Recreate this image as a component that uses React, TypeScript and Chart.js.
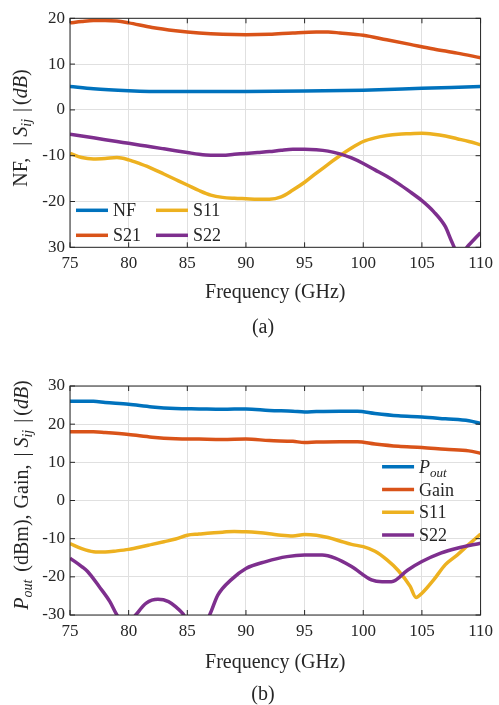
import React, { useEffect, useRef } from "react";
import { Chart, registerables } from "chart.js";
Chart.register(...registerables);

const FONT = "'Liberation Serif', 'Times New Roman', serif";
const INK = "#262626";
const BLUE = "#0072BD";
const ORANGE = "#D95319";
const YELLOW = "#EDB120";
const PURPLE = "#7E2F8E";

// ---------- Data: chart (a) ----------
const nfFreq = [75, 77, 80, 83, 85, 90, 95, 100, 105, 110];
const nfVals = [5.1, 4.6, 4.2, 4.0, 4.0, 4.0, 4.1, 4.3, 4.7, 5.1];

const s21aFreq = [75, 76, 77, 78, 79, 80, 82, 84, 86, 88, 90, 92, 94, 96, 97, 98, 100, 102, 104, 106, 108, 110];
const s21aVals = [19.0, 19.3, 19.5, 19.5, 19.4, 19.0, 18.0, 17.3, 16.8, 16.5, 16.4, 16.5, 16.8, 17.0, 17.0, 16.8, 16.3, 15.3, 14.3, 13.3, 12.4, 11.4];

const s11aFreq = [75, 76, 77, 78, 79, 80, 81, 82, 83, 84, 85, 86, 87, 88, 89, 90, 91, 92, 93, 94, 95, 96, 97, 98, 99, 100, 101, 102, 103, 104, 105, 106, 107, 108, 109, 110];
const s11aVals = [-9.5, -10.4, -10.7, -10.6, -10.4, -10.9, -11.8, -12.8, -14.0, -15.2, -16.4, -17.6, -18.6, -19.1, -19.3, -19.4, -19.5, -19.5, -19.0, -17.5, -15.8, -13.8, -11.9, -10.0, -8.3, -6.9, -6.1, -5.6, -5.3, -5.2, -5.1, -5.3, -5.7, -6.3, -6.9, -7.6];

const s22aFreq = [75, 76, 77, 78, 79, 80, 81, 82, 83, 84, 85, 86, 87, 88, 89, 90, 91, 92, 93, 94, 95, 96, 97, 98, 99, 100, 101, 102, 103, 104, 105, 106, 107, 107.5, 108, 108.5, 109, 110];
const s22aVals = [-5.3, -5.7, -6.1, -6.5, -6.9, -7.3, -7.7, -8.1, -8.5, -8.9, -9.3, -9.7, -9.9, -9.9, -9.7, -9.5, -9.3, -9.1, -8.8, -8.6, -8.6, -8.7, -9.0, -9.6, -10.5, -11.7, -13.1, -14.5, -16.1, -17.9, -19.8, -22.2, -25.5, -28.5, -30.8, -30.8, -29.5, -26.8];

// ---------- Data: chart (b) ----------
const poutFreq = [75, 77, 78, 80, 82, 84, 86, 88, 90, 92, 94, 95, 96, 98, 99.5, 101, 103, 105, 107, 109, 110];
const poutVals = [26.0, 26.0, 25.7, 25.2, 24.5, 24.1, 24.0, 23.9, 24.0, 23.6, 23.4, 23.2, 23.3, 23.4, 23.4, 22.8, 22.2, 21.9, 21.4, 20.9, 20.2];

const gainFreq = [75, 77, 78, 80, 82, 84, 86, 88, 90, 92, 94, 95, 96, 98, 99.5, 101, 103, 105, 107, 109, 110];
const gainVals = [18.0, 18.0, 17.8, 17.3, 16.6, 16.2, 16.1, 16.0, 16.1, 15.7, 15.5, 15.2, 15.3, 15.4, 15.4, 14.8, 14.2, 13.9, 13.4, 13.0, 12.4];

const s11bFreq = [75, 76, 77, 78, 79, 80, 81, 82, 83, 84, 85, 86, 87, 88, 89, 90, 91, 92, 93, 94, 95, 96, 97, 98, 99, 100, 101, 102, 103, 104, 104.5, 105, 106, 107, 108, 109, 110];
const s11bVals = [-11.3, -12.6, -13.4, -13.5, -13.2, -12.8, -12.2, -11.5, -10.8, -10.1, -9.1, -8.8, -8.5, -8.3, -8.1, -8.2, -8.4, -8.7, -9.1, -9.3, -8.9, -9.1, -9.7, -10.6, -11.5, -12.1, -13.3, -15.5, -18.4, -22.5, -25.4, -24.3, -20.8, -16.8, -14.3, -11.5, -8.8];

const s22bFreq = [75, 76, 76.5, 77.5, 78.4, 79, 79.8, 80.6, 81.5, 82.5, 83.4, 84, 84.6, 85.8, 86.9, 87.6, 88.8, 90, 91.7, 93.5, 95, 96.5, 97.6, 99, 100.7, 101.6, 102.4, 103.8, 105, 106.6, 108, 110];
const s22bVals = [-15.1, -17.3, -18.6, -22.6, -26.5, -30.0, -33.0, -30.0, -26.9, -25.9, -26.5, -27.8, -29.6, -35.0, -30.0, -24.8, -20.6, -17.8, -16.0, -14.7, -14.3, -14.3, -15.1, -17.3, -20.8, -21.3, -21.3, -18.2, -16.0, -13.8, -12.5, -11.2];

const xTicksMin = 75;
const xTicksMax = 110;

type Seg = { t: string; i?: boolean; sub?: boolean; gap?: number };

const pts = (xs: number[], ys: number[]) => xs.map((x, k) => ({ x, y: ys[k] }));

function segFont(s: Seg, size: number) {
  return `${s.i ? "italic " : ""}${s.sub ? Math.round(size * 0.7) : size}px ${FONT}`;
}
function segWidth(ctx: CanvasRenderingContext2D, s: Seg, size: number) {
  if (s.gap !== undefined) return s.gap;
  ctx.font = segFont(s, size);
  return ctx.measureText(s.t).width;
}
function drawRich(ctx: CanvasRenderingContext2D, segs: Seg[], x: number, y: number, size: number, align: "left" | "center") {
  let w = 0;
  for (const s of segs) w += segWidth(ctx, s, size);
  let cx = align === "center" ? x - w / 2 : x;
  ctx.textAlign = "left";
  ctx.textBaseline = "alphabetic";
  for (const s of segs) {
    const sw = segWidth(ctx, s, size);
    if (s.gap === undefined) {
      ctx.font = segFont(s, size);
      ctx.fillText(s.t, cx, s.sub ? y + size * 0.22 : y);
    }
    cx += sw;
  }
}

type LegendItem = { segs: Seg[]; color: string; x: number; y: number };
type DecorSpec = {
  yTitle: Seg[];
  yTitleX: number;
  yTitleCY: number;
  xTitleOffset: number;
  caption: string;
  captionX: number;
  captionY: number;
  legend: (a: { left: number; right: number; top: number; bottom: number }) => LegendItem[];
};

function makeDecor(spec: DecorSpec) {
  return {
    id: "decor",
    afterDraw(chart: any) {
      const ctx: CanvasRenderingContext2D = chart.ctx;
      const a = chart.chartArea;
      const xs = chart.scales.x;
      const ys = chart.scales.y;
      ctx.save();
      ctx.strokeStyle = INK;
      ctx.lineWidth = 1;
      ctx.strokeRect(a.left, a.top, a.right - a.left, a.bottom - a.top);
      const tl = 5;
      ctx.beginPath();
      xs.ticks.forEach((t: any) => {
        const p = xs.getPixelForValue(t.value);
        ctx.moveTo(p, a.bottom);
        ctx.lineTo(p, a.bottom - tl);
        ctx.moveTo(p, a.top);
        ctx.lineTo(p, a.top + tl);
      });
      ys.ticks.forEach((t: any) => {
        const p = ys.getPixelForValue(t.value);
        ctx.moveTo(a.left, p);
        ctx.lineTo(a.left + tl, p);
        ctx.moveTo(a.right, p);
        ctx.lineTo(a.right - tl, p);
      });
      ctx.stroke();

      for (const it of spec.legend(a)) {
        ctx.strokeStyle = it.color;
        ctx.lineWidth = 3.5;
        ctx.lineCap = "butt";
        ctx.beginPath();
        ctx.moveTo(it.x, it.y);
        ctx.lineTo(it.x + 32, it.y);
        ctx.stroke();
        ctx.fillStyle = INK;
        drawRich(ctx, it.segs, it.x + 37, it.y + 6, 18, "left");
      }

      ctx.fillStyle = INK;
      drawRich(ctx, [{ t: "Frequency (GHz)" }], (a.left + a.right) / 2, a.bottom + spec.xTitleOffset, 20, "center");

      ctx.save();
      ctx.translate(spec.yTitleX, spec.yTitleCY);
      ctx.rotate(-Math.PI / 2);
      drawRich(ctx, spec.yTitle, 0, 0, 20, "center");
      ctx.restore();

      drawRich(ctx, [{ t: spec.caption }], spec.captionX, spec.captionY, 20, "center");
      ctx.restore();
    },
  };
}

function lineDs(data: { x: number; y: number }[], color: string) {
  return {
    data,
    borderColor: color,
    backgroundColor: color,
    borderWidth: 3.5,
    pointRadius: 0,
    fill: false,
    cubicInterpolationMode: "monotone" as const,
  };
}

function makeConfig(opts: {
  datasets: any[];
  yMin: number;
  yMax: number;
  yLabel: (v: number) => string;
  padTop: number;
  padBottom: number;
  decor: any;
}) {
  return {
    type: "line" as const,
    data: { datasets: opts.datasets },
    options: {
      animation: false as const,
      responsive: false,
      events: [],
      layout: { padding: { left: 0, right: 15.5, top: opts.padTop, bottom: opts.padBottom } },
      plugins: { legend: { display: false }, tooltip: { enabled: false }, title: { display: false } },
      scales: {
        x: {
          type: "linear" as const,
          min: xTicksMin,
          max: xTicksMax,
          border: { display: false },
          grid: { color: "#e0e0e0", lineWidth: 1, drawTicks: false },
          ticks: {
            stepSize: 5,
            padding: 6,
            color: INK,
            font: { family: FONT, size: 17 },
            maxRotation: 0,
            callback: (v: any) => String(v),
          },
          afterFit: (s: any) => {
            s.height = 40;
          },
        },
        y: {
          type: "linear" as const,
          min: opts.yMin,
          max: opts.yMax,
          border: { display: false },
          grid: { color: "#e0e0e0", lineWidth: 1, drawTicks: false },
          ticks: {
            stepSize: 10,
            padding: 5,
            color: INK,
            font: { family: FONT, size: 17 },
            callback: (v: any) => opts.yLabel(Number(v)),
          },
          afterFit: (s: any) => {
            s.width = 70;
          },
        },
      },
    },
    plugins: [opts.decor],
  };
}

const CANVAS_A_H = 352;
const CANVAS_B_H = 353;

const sijSegs: Seg[] = [
  { t: "|" },
  { t: "", gap: 5 },
  { t: "S", i: true },
  { t: "ij", i: true, sub: true },
  { t: "", gap: 7 },
  { t: "|" },
  { t: "", gap: 3 },
  { t: "(" },
  { t: "dB", i: true },
  { t: ")" },
];

export default function App() {
  const refA = useRef<HTMLCanvasElement | null>(null);
  const refB = useRef<HTMLCanvasElement | null>(null);

  useEffect(() => {
    const decorA = makeDecor({
      yTitle: [{ t: "NF," }, { t: "", gap: 12 }, ...sijSegs],
      yTitleX: 27,
      yTitleCY: 128,
      xTitleOffset: 51,
      caption: "(a)",
      captionX: 263,
      captionY: 333,
      legend: (a) => [
        { segs: [{ t: "NF" }], color: BLUE, x: a.left + 6, y: a.bottom - 37 },
        { segs: [{ t: "S21" }], color: ORANGE, x: a.left + 6, y: a.bottom - 12 },
        { segs: [{ t: "S11" }], color: YELLOW, x: a.left + 86, y: a.bottom - 37 },
        { segs: [{ t: "S22" }], color: PURPLE, x: a.left + 86, y: a.bottom - 12 },
      ],
    });
    const decorB = makeDecor({
      yTitle: [
        { t: "P", i: true },
        { t: "out", i: true, sub: true },
        { t: "", gap: 8 },
        { t: "(dBm)," },
        { t: "", gap: 6 },
        { t: "Gain," },
        { t: "", gap: 8 },
        ...sijSegs,
      ],
      yTitleX: 28,
      yTitleCY: 143,
      xTitleOffset: 53,
      caption: "(b)",
      captionX: 263,
      captionY: 348,
      legend: (a) => [
        { segs: [{ t: "P", i: true }, { t: "out", i: true, sub: true }], color: BLUE, x: a.right - 98.5, y: a.top + 80.7 },
        { segs: [{ t: "Gain" }], color: ORANGE, x: a.right - 98.5, y: a.top + 103.5 },
        { segs: [{ t: "S11" }], color: YELLOW, x: a.right - 98.5, y: a.top + 126.3 },
        { segs: [{ t: "S22" }], color: PURPLE, x: a.right - 98.5, y: a.top + 149.1 },
      ],
    });

    const cfgA = makeConfig({
      datasets: [
        lineDs(pts(s22aFreq, s22aVals), PURPLE),
        lineDs(pts(s11aFreq, s11aVals), YELLOW),
        lineDs(pts(s21aFreq, s21aVals), ORANGE),
        lineDs(pts(nfFreq, nfVals), BLUE),
      ],
      yMin: -30,
      yMax: 20,
      yLabel: (v) => (v === -30 ? "30" : String(v)),
      padTop: 18.3,
      padBottom: CANVAS_A_H - 247.3 - 40,
      decor: decorA,
    });
    const cfgB = makeConfig({
      datasets: [
        lineDs(pts(s22bFreq, s22bVals), PURPLE),
        lineDs(pts(s11bFreq, s11bVals), YELLOW),
        lineDs(pts(gainFreq, gainVals), ORANGE),
        lineDs(pts(poutFreq, poutVals), BLUE),
      ],
      yMin: -30,
      yMax: 30,
      yLabel: (v) => String(v),
      padTop: 386 - 352,
      padBottom: CANVAS_B_H - (615 - 352) - 40,
      decor: decorB,
    });

    const ca = new Chart(refA.current as HTMLCanvasElement, cfgA as any);
    const cb = new Chart(refB.current as HTMLCanvasElement, cfgB as any);
    return () => {
      ca.destroy();
      cb.destroy();
    };
  }, []);

  return (
    <div style={{ position: "absolute", left: 0, top: 0, width: 499, height: 705, background: "#ffffff" }}>
      <canvas ref={refA} width={499} height={CANVAS_A_H} style={{ position: "absolute", left: 0, top: 0, display: "block" }} />
      <canvas ref={refB} width={499} height={CANVAS_B_H} style={{ position: "absolute", left: 0, top: CANVAS_A_H, display: "block" }} />
    </div>
  );
}
